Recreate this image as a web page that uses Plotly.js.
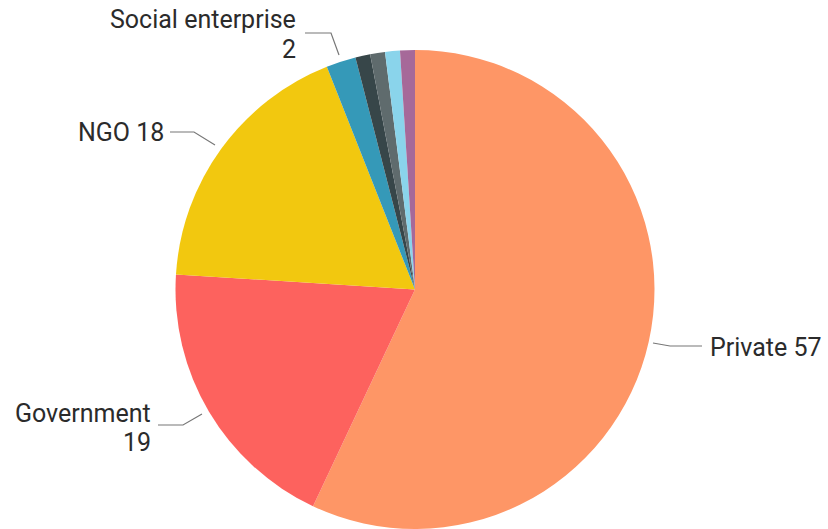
<!DOCTYPE html>
<html>
<head>
<meta charset="utf-8">
<script src="https://cdn.plot.ly/plotly-3.0.1.min.js"></script>
<style>html,body{margin:0;padding:0;background:#fff}#chart{width:828px;height:529px}</style>
</head>
<body>
<div id="chart"></div>
<script>
const labels = ["Private", "Government", "NGO", "Social enterprise", "Other A", "Other B", "Other C", "Other D"];
const values = [57, 19, 18, 2, 1, 1, 1, 1];
const colors = ["#FE9666", "#FD625E", "#F2C80F", "#3599B8", "#374649", "#5F6B6D", "#8AD4EB", "#A66999"];

const W = 828, H = 529;
const px = x => x / W;
const py = y => 1 - y / H;
const font = {family: "Roboto, 'DejaVu Sans', sans-serif", size: 25, color: "#2b2b2b"};

function ann(text, x, y, xanchor) {
  return {text: text, x: px(x), y: py(y), xref: "paper", yref: "paper", xanchor: xanchor, yanchor: "middle", showarrow: false, font: font};
}
const annotations = [
  ann(labels[3], 298, 19, "right"),
  ann(String(values[3]), 298, 49, "right"),
  ann(labels[2] + " " + values[2], 166, 133, "right"),
  ann(labels[1], 153, 413, "right"),
  ann(String(values[1]), 153, 442, "right"),
  ann(labels[0] + " " + values[0], 708, 347, "left")
];
function poly(pts) {
  let d = "M " + pts.map(p => px(p[0]) + "," + py(p[1])).join(" L ");
  return {type: "path", xref: "paper", yref: "paper", path: d, line: {color: "#777777", width: 1.2}};
}
const shapes = [
  poly([[305, 33], [331, 33], [339, 55]]),
  poly([[170, 132], [194, 132], [215, 145]]),
  poly([[158, 425], [183, 425], [202, 414]]),
  poly([[653, 343], [670, 346], [702, 346]])
];

Plotly.newPlot("chart", [{
  type: "pie",
  labels: labels,
  values: values,
  sort: false,
  direction: "clockwise",
  rotation: 0,
  textinfo: "none",
  marker: {colors: colors, line: {width: 0}},
  domain: {x: [px(175), px(655)], y: [0, py(50)]},
  showlegend: false
}], {
  width: W, height: H,
  margin: {l: 0, r: 0, t: 0, b: 0},
  paper_bgcolor: "#ffffff",
  showlegend: false,
  annotations: annotations,
  shapes: shapes
}, {displayModeBar: false, staticPlot: true});
</script>
</body>
</html>
